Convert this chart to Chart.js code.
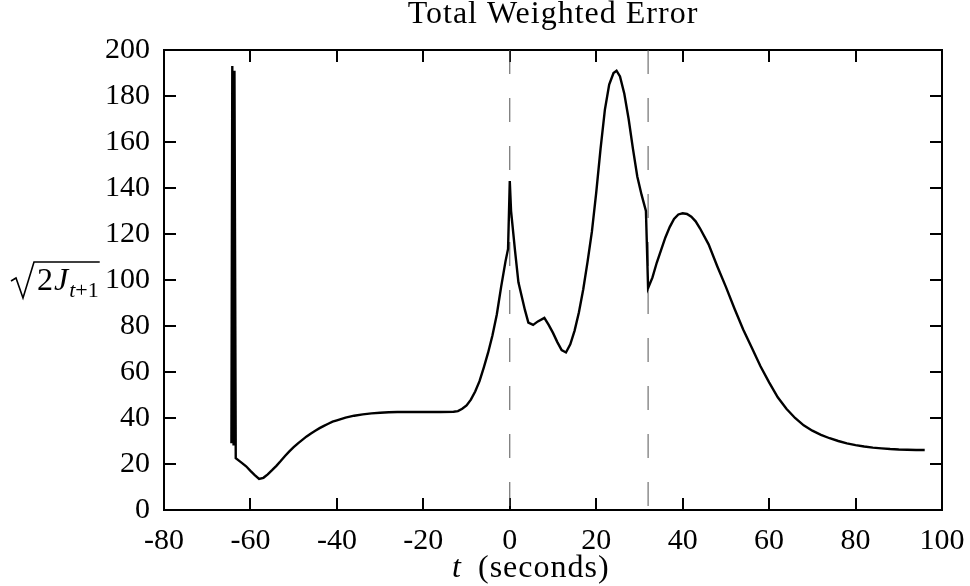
<!DOCTYPE html>
<html>
<head>
<meta charset="utf-8">
<script src="https://cdn.jsdelivr.net/npm/chart.js@4"></script>
<style>
  html, body { margin: 0; padding: 0; background: #fff; }
  #wrap { width: 970px; height: 586px; }
</style>
</head>
<body>
<div id="wrap"><canvas id="errChart" width="970" height="586"></canvas></div>
<script>
// Total weighted error vs time
const tValues = [-64.4, -64.2, -63.9, -63.7, -63.4, -62, -61, -60, -59, -58, -57, -56, -55, -54, -53, -52, -51, -50,
  -49, -48, -47, -46, -45, -44, -43, -42, -41, -40, -38, -36, -34, -32, -30, -28, -26, -24, -20, -16, -13, -12,
  -11, -10, -9, -8, -7, -6, -5, -4, -3, -2, -1, -0.4, 0, 0.3, 1.2, 2, 3, 3.5, 4.3, 5.4, 6.5, 8, 9, 10, 11, 12, 13,
  14, 15, 16, 17, 18, 19, 20, 21, 22, 23, 24, 24.7, 25.5, 26.5, 27.5, 28.5, 29.5, 30.5, 31.5, 32, 33, 34, 35, 36, 37, 38, 39,
  40, 41, 42, 43, 44, 46, 48, 50, 52, 54, 56, 58, 60, 62, 64, 66, 68, 70, 72, 74, 76, 78, 80, 82, 84, 86, 88, 90,
  92, 94, 96];
const errValues = [29, 193, 28, 191, 22.5, 20.5, 19, 17, 15.2, 13.5, 14, 15.5, 17.3, 19.2, 21.3, 23.5, 25.5, 27.3,
  29, 30.5, 32, 33.3, 34.5, 35.6, 36.6, 37.5, 38.4, 39, 40.2, 41, 41.6, 42, 42.3, 42.5, 42.6, 42.6, 42.6, 42.6, 42.7, 43,
  44, 45.5, 48, 51.5, 56, 62, 68.5, 76, 85, 97, 108, 113.5, 143, 130, 113, 99, 91, 87, 81.5, 80.5, 82, 83.5, 80.5, 77, 73, 69.5, 68.5,
  72, 78, 86, 96, 108, 121, 138, 157, 174, 185, 190, 191, 188.5, 181, 170, 157, 145, 137, 130, 96.5, 101, 107.5, 113, 118.5, 123, 126.5, 128.5,
  129, 128.7, 127.5, 125.5, 122.5, 115.5, 106, 97, 87.5, 78.5, 70.5, 62.5, 55.5, 49, 44, 40, 36.8, 34.5, 32.7, 31.2, 30, 29, 28.2, 27.6, 27.1, 26.8, 26.5, 26.3,
  26.2, 26.1, 26.1];

const phaseTimes = [0, 32];           // dashed vertical markers
const xTicks = [-80, -60, -40, -20, 0, 20, 40, 60, 80, 100];
const yTicks = [0, 20, 40, 60, 80, 100, 120, 140, 160, 180, 200];
const yLabelAt = 100;                  // y label sits beside this tick

const SERIF = '"Liberation Serif", "Times New Roman", serif';

// Frame with inward ticks on all four sides
const framePlugin = {
  id: 'frame',
  beforeDatasetsDraw(chart) {
    const { ctx, chartArea: a, scales: { x, y } } = chart;
    const len = 12;
    ctx.save();
    ctx.strokeStyle = '#000';
    ctx.lineWidth = 2;
    ctx.strokeRect(a.left, a.top, a.right - a.left, a.bottom - a.top);
    ctx.beginPath();
    xTicks.forEach(v => {
      const px = Math.round(x.getPixelForValue(v));
      ctx.moveTo(px, a.bottom); ctx.lineTo(px, a.bottom - len);
      ctx.moveTo(px, a.top); ctx.lineTo(px, a.top + len);
    });
    yTicks.forEach(v => {
      const py = Math.round(y.getPixelForValue(v));
      ctx.moveTo(a.left, py); ctx.lineTo(a.left + len, py);
      ctx.moveTo(a.right, py); ctx.lineTo(a.right - len, py);
    });
    ctx.stroke();
    ctx.restore();
  }
};

// Title and axis labels (math typesetting)
const labelPlugin = {
  id: 'mathLabels',
  afterDraw(chart) {
    const { ctx, chartArea: a, scales: { y } } = chart;
    const midX = (a.left + a.right) / 2;
    ctx.save();
    ctx.fillStyle = '#000';
    ctx.strokeStyle = '#000';

    // title
    ctx.font = '32px ' + SERIF;
    ctx.letterSpacing = '1px';
    ctx.textAlign = 'center';
    ctx.textBaseline = 'middle';
    ctx.fillText('Total Weighted Error', midX, 15);
    ctx.letterSpacing = '0px';

    ctx.textAlign = 'left';
    ctx.textBaseline = 'alphabetic';

    // sqrt(2 J_{t+1})
    const base = y.getPixelForValue(yLabelAt) + 10;
    let x = 37;
    ctx.font = '32px ' + SERIF;
    ctx.fillText('2', x, base); x += ctx.measureText('2').width + 1;
    ctx.font = 'italic 32px ' + SERIF;
    ctx.fillText('J', x, base); x += ctx.measureText('J').width + 1;
    ctx.font = 'italic 22px ' + SERIF;
    ctx.fillText('t', x, base + 7); x += ctx.measureText('t').width;
    ctx.font = '22px ' + SERIF;
    ctx.fillText('+1', x, base + 7); x += ctx.measureText('+1').width + 1;
    const top = base - 28;
    ctx.lineWidth = 1.6;
    ctx.beginPath();
    ctx.moveTo(11, base - 9);
    ctx.lineTo(16, base - 12);
    ctx.lineTo(23, base + 8);
    ctx.lineTo(34, top);
    ctx.lineTo(x, top);
    ctx.stroke();

    // t (seconds)
    const by = 577;
    ctx.font = 'italic 32px ' + SERIF;
    ctx.fillText('t', 452, by);
    ctx.font = '32px ' + SERIF;
    ctx.letterSpacing = '1px';
    ctx.fillText('(seconds)', 478, by);
    ctx.restore();
  }
};

const ctx = document.getElementById('errChart').getContext('2d');

const markerSets = phaseTimes.map(t => ({
  data: [{ x: t, y: yTicks[yTicks.length - 1] }, { x: t, y: yTicks[0] }],
  showLine: true,
  borderColor: '#555',
  borderWidth: 1,
  borderDash: [24, 24],
  pointRadius: 0,
  order: 2
}));

new Chart(ctx, {
  type: 'scatter',
  data: {
    datasets: [{
      label: 'Total Weighted Error',
      data: tValues.map((t, i) => ({ x: t, y: errValues[i] })),
      showLine: true,
      borderColor: '#000',
      borderWidth: 2.4,
      pointRadius: 0,
      tension: 0,
      order: 1
    }, ...markerSets]
  },
  options: {
    responsive: false,
    animation: false,
    layout: { padding: { left: 0, right: 28, top: 50, bottom: 0 } },
    plugins: {
      legend: { display: false },
      tooltip: { enabled: false },
      title: { display: false }
    },
    scales: {
      x: {
        type: 'linear',
        min: -80, max: 100,
        afterBuildTicks: s => { s.ticks = xTicks.map(v => ({ value: v })); },
        ticks: { color: '#000', font: { family: SERIF, size: 30 }, padding: 13, maxRotation: 0 },
        grid: { display: false, drawTicks: false },
        border: { display: false },
        afterFit: s => { s.height = 76; s.paddingLeft = 0; s.paddingRight = 0; }
      },
      y: {
        min: 0, max: 200,
        afterBuildTicks: s => { s.ticks = yTicks.map(v => ({ value: v })); },
        ticks: { color: '#000', font: { family: SERIF, size: 30 }, padding: 14 },
        grid: { display: false, drawTicks: false },
        border: { display: false },
        afterFit: s => { s.width = 164; s.paddingTop = 0; s.paddingBottom = 0; }
      }
    }
  },
  plugins: [framePlugin, labelPlugin]
});
</script>
</body>
</html>
